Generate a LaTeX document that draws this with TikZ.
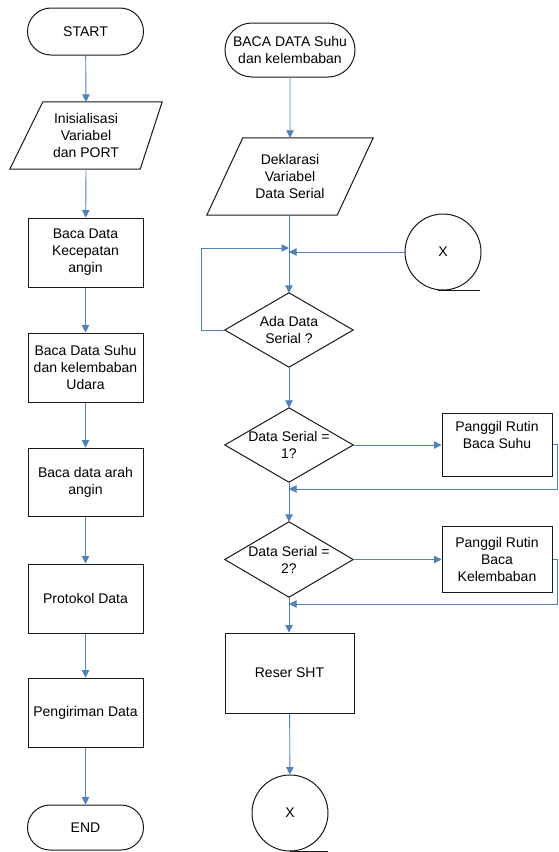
\documentclass[tikz,border=0pt]{standalone}
\usepackage{fontspec}
\setmainfont{Liberation Sans}
\usetikzlibrary{arrows.meta,shapes.misc,calc}
\definecolor{flowblue}{RGB}{79,129,189}
\begin{document}
\begin{tikzpicture}[x=1pt,y=-1pt,
  every node/.style={font=\fontsize{14}{17}\selectfont, align=center, inner sep=0pt},
  shp/.style={draw=black!90, line width=1pt},
  term/.style={shp, rounded rectangle},
  proc/.style={shp, rectangle},
  txt/.style={draw=none},
  arr/.style={draw=flowblue, line width=0.9pt, -{Triangle[length=7.5pt,width=7.5pt]}},
  ln/.style={draw=flowblue, line width=0.9pt},
]
\useasboundingbox (0,0) rectangle (558,852);
\fill[white] (0,0) rectangle (558,852);

% ---------- left column ----------
\node[term, minimum width=116pt, minimum height=47pt] (start) at (85.5,31.5) {START};
\node[txt, minimum width=152pt, minimum height=67pt] (init) at (86,135.5) {Inisialisasi\\Variabel\\dan PORT};
\draw[shp] ($(init.north west)+(33,0)$) -- (init.north east) -- ($(init.south east)+(-22,0)$) -- (init.south west) -- cycle;
\node[proc, minimum width=115pt, minimum height=69pt] (b1) at (85.5,252.5) {Baca Data\\Kecepatan\\angin};
\node[proc, minimum width=115pt, minimum height=69pt] (b2) at (85.5,367.5) {Baca Data Suhu\\dan kelembaban\\Udara};
\node[proc, minimum width=115pt, minimum height=68pt] (b3) at (85.5,482) {Baca data arah\\angin};
\node[proc, minimum width=115pt, minimum height=69pt] (b4) at (85.5,598.5) {Protokol Data};
\node[proc, minimum width=115pt, minimum height=69pt] (b5) at (85.5,712.5) {Pengiriman Data};
\node[term, minimum width=116pt, minimum height=45pt] (end) at (85.5,827.5) {END};

\draw[arr] (start) -- (init.north);
\draw[arr] (init.south) -- (b1);
\draw[arr] (b1) -- (b2);
\draw[arr] (b2) -- (b3);
\draw[arr] (b3) -- (b4);
\draw[arr] (b4) -- (b5);
\draw[arr] (b5) -- (end);

% ---------- right column ----------
\node[term, minimum width=130pt, minimum height=54pt] (r0) at (290,50) {BACA DATA Suhu\\dan kelembaban};
\node[txt, minimum width=166pt, minimum height=77pt] (decl) at (290,176.5) {Deklarasi\\Variabel\\Data Serial};
\draw[shp] ($(decl.north west)+(36,0)$) -- (decl.north east) -- ($(decl.south east)+(-36,0)$) -- (decl.south west) -- cycle;

\node[shp, circle, minimum size=76pt] (x1) at (443,252) {X};
\draw[shp] ($(x1.south)+(-5,0)$) -- ++(42,0);

\node[txt, minimum width=128pt, minimum height=74pt] (d0) at (289,330) {Ada Data\\Serial ?};
\draw[shp] (d0.north) -- (d0.east) -- (d0.south) -- (d0.west) -- cycle;
\node[txt, minimum width=128pt, minimum height=74pt] (d1) at (289,445) {Data Serial =\\1?};
\draw[shp] (d1.north) -- (d1.east) -- (d1.south) -- (d1.west) -- cycle;
\node[proc, minimum width=110pt, minimum height=63pt] (s1) at (497,444.5) {Panggil Rutin\\Baca Suhu\\[2pt]};
\node[txt, minimum width=128pt, minimum height=75pt] (d2) at (289,559.5) {Data Serial =\\2?};
\draw[shp] (d2.north) -- (d2.east) -- (d2.south) -- (d2.west) -- cycle;
\node[proc, minimum width=110pt, minimum height=66pt] (s2) at (497,559) {Panggil Rutin\\Baca\\Kelembaban};
\node[proc, minimum width=129pt, minimum height=80pt] (rs) at (289.5,673) {Reser SHT};
\node[shp, circle, minimum size=76pt] (x2) at (290,813) {X};
\draw[shp] (x2.south) -- ++(38,0);

\coordinate (j1) at (289,248);
\coordinate (j2) at (289,252);
\coordinate (j3) at (289,489);
\coordinate (j4) at (289,604);

\draw[arr] (r0) -- (r0 |- decl.north);
\draw[arr] (decl.south -| d0.north) -- (d0.north);
\draw[arr] (d0.west) -- ++(-23,0) |- (j1);
\draw[arr] (x1.west) -- (j2);
\draw[arr] (d0.south) -- (d1.north);
\draw[arr] (d1.east) -- (s1.west |- d1.east);
\draw[arr] (s1.east) -- ++(5,0) |- (j3);
\draw[arr] (d1.south) -- (d2.north);
\draw[arr] (d2.east) -- (s2.west |- d2.east);
\draw[arr] (s2.east) -- ++(5,0) |- (j4);
\draw[arr] (d2.south) -- (rs.north -| d2.south);
\draw[arr] (rs) -- (x2);
\end{tikzpicture}
\end{document}
